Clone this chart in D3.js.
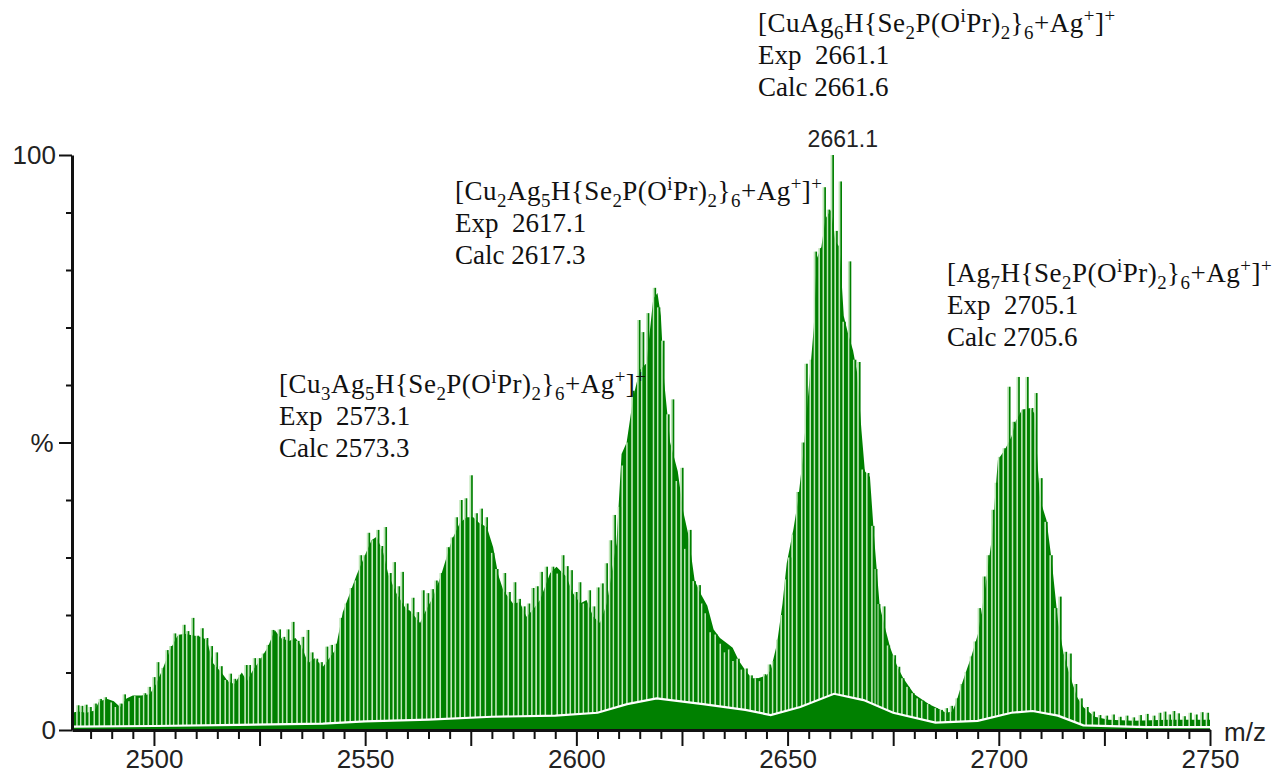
<!DOCTYPE html>
<html><head><meta charset="utf-8">
<script src="https://cdn.jsdelivr.net/npm/d3@7"></script>
<style>body{margin:0;background:#fff}</style>
</head><body><svg id="c" width="1274" height="780"></svg>
<script>
// ---- data ----
const spikeMz = [2482.1,2483.0,2484.0,2485.0,2486.2,2487.4,2488.6,2490.2,2491.2,2492.2,2493.1,2494.4,2495.8,2496.9,2497.9,2499.0,2500.1,2501.0,2502.2,2503.2,2504.1,2505.0,2506.1,2507.2,2508.1,2509.3,2510.4,2511.5,2512.6,2513.7,2514.9,2516.0,2517.2,2518.2,2519.2,2520.5,2521.9,2522.7,2523.9,2525.0,2526.0,2527.1,2528.2,2529.8,2530.8,2531.8,2533.0,2534.2,2535.3,2536.5,2537.5,2538.6,2539.7,2541.0,2542.1,2543.2,2544.4,2545.6,2546.8,2548.0,2549.0,2550.0,2550.9,2552.0,2553.1,2554.0,2554.9,2556.0,2557.0,2558.0,2558.9,2560.0,2561.4,2562.5,2563.8,2564.9,2566.0,2566.9,2568.1,2569.7,2570.7,2571.7,2572.8,2573.9,2575.2,2576.4,2577.6,2578.8,2580.3,2581.3,2583.1,2584.2,2585.5,2586.6,2587.7,2588.8,2589.8,2590.8,2591.8,2593.0,2594.5,2595.8,2596.9,2597.9,2598.9,2600.0,2600.9,2602.0,2603.2,2604.2,2605.2,2606.2,2607.2,2608.2,2609.1,2610.3,2611.2,2612.3,2613.5,2614.9,2615.8,2617.0,2618.6,2619.6,2620.6,2621.8,2622.9,2624.0,2625.1,2626.0,2627.0,2628.0,2629.2,2630.0,2630.8,2632.0,2633.2,2634.4,2635.4,2636.4,2637.4,2638.4,2639.4,2640.3,2641.5,2642.7,2643.7,2644.7,2645.8,2646.8,2647.8,2648.8,2649.8,2650.6,2651.4,2652.5,2653.7,2654.5,2655.7,2656.7,2657.8,2658.8,2659.8,2660.7,2661.6,2662.6,2663.5,2664.8,2666.0,2667.0,2668.0,2669.1,2670.3,2671.0,2671.7,2672.9,2674.0,2675.4,2676.4,2677.4,2678.6,2679.8,2681.0,2682.1,2683.5,2685.3,2686.5,2687.7,2688.9,2690.2,2691.3,2692.4,2693.6,2694.5,2695.5,2696.6,2697.6,2698.7,2699.5,2700.3,2701.4,2702.5,2703.6,2704.7,2705.8,2706.8,2707.9,2708.9,2710.1,2711.3,2712.5,2713.6,2714.6,2715.9,2717.0,2718.3,2719.6,2721.0,2722.5,2724.0,2725.6,2727.2,2728.8,2730.4,2732.0,2733.6,2735.2,2736.8,2738.2,2739.4,2740.5,2741.5,2742.6,2744.0,2745.4,2746.8,2748.2,2749.5];
const spikeTop = [4.3,4.2,4.4,4.0,4.6,5.4,5.7,4.8,4.0,4.6,6.2,5.0,5.9,5.6,6.4,7.5,9.2,11.8,10.8,13.9,14.6,16.8,16.6,18.3,17.2,19.5,16.4,17.7,16.0,14.6,13.5,11.1,8.7,9.8,8.9,9.6,11.3,11.3,12.5,12.5,13.3,14.8,17.4,17.5,16.2,17.5,18.8,15.5,16.2,17.4,13.5,12.4,11.8,14.5,14.8,15.0,19.5,22.0,24.7,26.0,30.4,30.4,34.3,33.0,34.8,32.0,35.3,27.3,29.2,25.0,27.5,22.0,23.0,20.5,24.3,23.8,24.5,26.0,27.3,31.8,33.5,37.0,40.0,40.3,44.3,37.7,38.5,37.0,30.8,28.0,27.3,24.0,25.7,22.8,21.5,22.0,24.7,25.0,27.5,28.4,28.4,27.2,30.4,28.5,27.8,24.0,25.7,22.0,24.3,21.5,24.8,25.5,29.0,33.0,37.4,38.8,46.0,50.0,59.0,71.3,69.2,72.5,76.9,73.5,67.7,54.9,57.5,43.3,45.6,31.5,34.8,25.9,25.2,22.0,20.3,17.0,16.6,15.0,13.5,14.0,12.0,12.4,10.5,10.7,9.5,9.0,8.5,9.7,11.4,12.0,15.7,20.0,26.2,30.0,34.0,41.4,50.0,63.7,64.4,83.2,83.8,94.4,90.5,100,86.8,95.4,71.0,81.5,64.4,64.0,45.3,44.7,35.5,28.0,21.9,21.5,14.7,13.0,11.0,9.0,7.5,6.4,5.5,5.1,4.5,3.8,3.5,3.8,4.2,5.5,8.0,10.1,12.8,15.4,21.2,26.7,30.4,38.3,43.0,47.5,49.0,59.7,53.6,61.4,55.7,61.4,56.0,58.6,43.8,36.2,30.4,21.2,23.2,13.6,13.3,8.0,5.5,4.0,3.2,2.6,2.5,2.7,2.3,2.5,2.2,2.6,2.8,2.5,3.0,3.2,2.7,3.3,2.9,2.4,3.0,2.7,3.1,3.0];

const envMz = [2480.6,2482,2484,2486,2487,2489,2490.5,2492,2493.5,2495,2497,2499,2500.5,2502,2503.8,2505.5,2507,2509,2511,2512.5,2514,2516,2517.5,2519,2520.8,2522,2523.5,2525,2527,2528.6,2530,2532,2533.5,2535,2536.5,2538,2540,2541.5,2543,2544.7,2546.5,2548,2550,2551.5,2552.7,2554.3,2555.5,2557.4,2559.8,2560.6,2563,2564.5,2566,2568,2570.5,2572.4,2574,2575.6,2577,2578.8,2580.3,2581.5,2582.7,2585,2586.6,2588.2,2589.8,2591.4,2593.8,2595.3,2597.7,2599,2600.9,2602.4,2604,2605.6,2607.2,2608.3,2609.5,2610.7,2611.9,2613.5,2615,2616.6,2618.2,2619.2,2620,2620.8,2622.2,2624,2625.3,2626.5,2628,2629.5,2631,2632.5,2634,2635.8,2637,2638.5,2640,2641.5,2643,2645,2646,2647.5,2648.8,2649.8,2651.4,2652.5,2653.7,2654.5,2655.3,2656.2,2656.9,2658,2659,2660.3,2661.3,2662.3,2663.3,2664.3,2665.5,2666.5,2667.5,2668.3,2669.5,2670.5,2671.8,2673,2674.3,2676,2677.4,2680,2683.5,2685.5,2687.5,2689,2690,2690.8,2692.4,2693.5,2695.1,2696.6,2698.3,2699.8,2701.4,2703,2704,2705.5,2707.5,2708.5,2709.3,2709.8,2711.3,2712.5,2714,2715.3,2716.9,2718.5,2720,2722.7,2726,2732,2740,2750];
const envTop = [3.0,3.2,3.0,3.4,5.0,5.4,5.0,4.0,5.5,6.0,6.0,6.2,8.0,10.5,13.9,16.3,16.8,16.5,16.2,15.7,11.6,10.0,8.5,8.0,10.0,8.5,10.5,12.0,14.5,17.4,16.0,15.5,16.0,14.5,11.6,12.5,11.0,12.5,14.0,20.5,24.0,27.0,30.5,33.0,33.6,30.8,27.0,23.8,20.9,20.8,18.6,21.0,23.0,27.0,33.0,36.0,37.0,37.0,36.0,35.3,31.8,27.0,24.3,22.0,22.2,19.7,21.0,22.6,27.3,28.4,26.6,24.0,22.0,22.6,19.7,18.6,22.0,27.0,32.5,48.0,50.0,58.0,62.6,63.8,75.0,76.0,72.0,60.5,50.0,45.0,38.0,34.0,26.0,23.6,21.6,17.5,16.0,15.0,14.3,12.0,10.4,9.0,9.0,9.5,10.4,15.0,22.0,29.0,35.0,40.0,48.0,55.0,62.0,70.0,82.0,84.0,89.0,90.5,85.0,84.0,72.0,69.0,66.0,62.0,52.0,45.0,44.0,33.4,21.6,18.0,14.3,11.0,9.0,6.2,4.5,3.8,3.0,3.2,5.0,7.0,10.5,12.8,16.8,23.8,33.0,47.0,48.7,51.0,53.7,55.7,56.0,55.0,45.0,40.0,36.5,29.6,19.0,13.4,9.3,5.8,4.0,2.3,1.8,1.6,1.8,1.8];

const floorMz = [2480.6,2500,2520,2540,2550,2565,2580,2595,2605,2612,2619,2630,2640,2646,2653,2661,2668,2675,2685,2695,2703,2708,2714,2720,2735,2750];
const floorLevel = [0.6,0.7,0.9,1.1,1.5,1.8,2.3,2.5,3.0,4.5,5.5,4.5,3.5,2.6,4.0,6.3,5.2,3.0,1.3,1.6,3.0,3.3,2.5,0.8,0.5,0.5];

const xLabelValues = [2500,2550,2600,2650,2700,2750];
const yLabelValues = [0,100];
const yLabelText = ["0","100"];
const xAxisTitle = "m/z";
const yAxisTitle = "%";
const peakLabel = {mz:2660.7, value:100, text:"2661.1"};

// annotations: formula pieces ([text, kind]) + exp / calc lines
const annots = [
  {x:758, y:32, parts:[["[CuAg",""],["6","sub"],["H{Se",""],["2","sub"],["P(O",""],["i","sup"],["Pr)",""],["2","sub"],["}",""],["6","sub"],["+Ag",""],["+","sup"],["]",""],["+","sup"]], exp:"Exp  2661.1", calc:"Calc 2661.6"},
  {x:455, y:200, parts:[["[Cu",""],["2","sub"],["Ag",""],["5","sub"],["H{Se",""],["2","sub"],["P(O",""],["i","sup"],["Pr)",""],["2","sub"],["}",""],["6","sub"],["+Ag",""],["+","sup"],["]",""],["+","sup"]], exp:"Exp  2617.1", calc:"Calc 2617.3"},
  {x:279, y:393, parts:[["[Cu",""],["3","sub"],["Ag",""],["5","sub"],["H{Se",""],["2","sub"],["P(O",""],["i","sup"],["Pr)",""],["2","sub"],["}",""],["6","sub"],["+Ag",""],["+","sup"],["]",""],["+","sup"]], exp:"Exp  2573.1", calc:"Calc 2573.3"},
  {x:947, y:282, parts:[["[Ag",""],["7","sub"],["H{Se",""],["2","sub"],["P(O",""],["i","sup"],["Pr)",""],["2","sub"],["}",""],["6","sub"],["+Ag",""],["+","sup"],["]",""],["+","sup"]], exp:"Exp  2705.1", calc:"Calc 2705.6"}
];

// ---- drawing ----
const svg = d3.select("#c");
const x = d3.scaleLinear().domain([2480.6, 2750]).range([72, 1210]);
const y = d3.scaleLinear().domain([0, 100]).range([730, 155]);
const GREEN = "#008000", LIGHT = "#bfe6b8";

const env = envMz.map((m,i)=>({m, v:envTop[i]}));
svg.append("path").datum(env)
  .attr("fill", GREEN)
  .attr("d", d3.area().x(d=>x(d.m)).y0(y(0)).y1(d=>y(d.v)));

const spikes = spikeMz.map((m,i)=>({m, v:spikeTop[i]}));
const sg = svg.append("g");
sg.selectAll("rect.l").data(spikes).join("rect").attr("class","l")
  .attr("x", d=>x(d.m)-2.2).attr("width", 1.7)
  .attr("y", d=>y(d.v)).attr("height", d=>y(0)-y(d.v))
  .attr("fill", LIGHT);
sg.selectAll("rect.g").data(spikes).join("rect").attr("class","g")
  .attr("x", d=>x(d.m)-0.5).attr("width", 1.7)
  .attr("y", d=>y(d.v)).attr("height", d=>y(0)-y(d.v))
  .attr("fill", GREEN);

const fl = floorMz.map((m,i)=>({m, v:floorLevel[i]}));
svg.append("path").datum(fl).attr("fill", GREEN)
  .attr("d", d3.area().x(d=>x(d.m)).y0(y(0)).y1(d=>y(d.v)));
svg.append("path").datum(fl).attr("fill","none").attr("stroke","#fff").attr("stroke-width",2.2)
  .attr("d", d3.line().x(d=>x(d.m)).y(d=>y(d.v)));

// axes
const xAxis = d3.axisBottom(x)
  .tickValues(d3.range(2485, 2751, 5))
  .tickFormat(d => xLabelValues.includes(d) ? d : "")
  .tickSizeOuter(0);
const gx = svg.append("g").attr("transform", `translate(0,${y(0)})`).call(xAxis);
gx.select(".domain").attr("stroke","#111").attr("stroke-width",3);
gx.selectAll(".tick line").attr("stroke","#111").attr("stroke-width",2)
  .attr("y2", d => d % 25 === 0 ? 16 : 9);
gx.selectAll(".tick text").attr("y", 20).attr("dy","0.71em")
  .attr("font-family","Liberation Sans, Arial, sans-serif").attr("font-size",26).attr("fill","#222");

const yAxis = d3.axisLeft(y)
  .tickValues(d3.range(0, 101, 10))
  .tickFormat(d => { const k = yLabelValues.indexOf(d); return k >= 0 ? yLabelText[k] : ""; })
  .tickSizeOuter(0);
const gy = svg.append("g").attr("transform", `translate(${x(2480.6)},0)`).call(yAxis);
gy.select(".domain").attr("stroke","#111").attr("stroke-width",3);
gy.selectAll(".tick line").attr("stroke","#111").attr("stroke-width",2)
  .attr("x2", d => d % 50 === 0 ? -13 : -6);
gy.selectAll(".tick text").attr("x", -16)
  .attr("font-family","Liberation Sans, Arial, sans-serif").attr("font-size",26).attr("fill","#222");

svg.append("text").attr("x", 42).attr("y", y(50)).attr("dy","0.35em").attr("text-anchor","middle")
  .attr("font-family","Liberation Sans, Arial, sans-serif").attr("font-size",26).attr("fill","#222")
  .text(yAxisTitle);
svg.append("text").attr("x", 1224).attr("y", 741)
  .attr("font-family","Liberation Sans, Arial, sans-serif").attr("font-size",26).attr("fill","#222")
  .text(xAxisTitle);

svg.append("text").attr("x", x(peakLabel.mz)+10).attr("y", y(peakLabel.value)-8).attr("text-anchor","middle")
  .attr("font-family","Liberation Sans, Arial, sans-serif").attr("font-size",23).attr("fill","#222")
  .text(peakLabel.text);

// annotations
const FS = 27;
annots.forEach(a => {
  const t = svg.append("text").attr("x", a.x).attr("y", a.y)
    .attr("font-family","Liberation Serif, Times New Roman, serif").attr("font-size", FS)
    .attr("letter-spacing", 0.5).attr("fill","#111");
  let shift = 0;
  a.parts.forEach(([s,k]) => {
    const target = k === "sub" ? 7 : k === "sup" ? -10 : 0;
    t.append("tspan").attr("dy", target - shift)
      .attr("font-size", k ? FS*0.7 : FS).text(s);
    shift = target;
  });
  svg.append("text").attr("x", a.x).attr("y", a.y+32).style("white-space","pre")
    .attr("font-family","Liberation Serif, Times New Roman, serif").attr("font-size", FS).attr("fill","#111")
    .text(a.exp);
  svg.append("text").attr("x", a.x).attr("y", a.y+64).style("white-space","pre")
    .attr("font-family","Liberation Serif, Times New Roman, serif").attr("font-size", FS).attr("fill","#111")
    .text(a.calc);
});
</script></body></html>
